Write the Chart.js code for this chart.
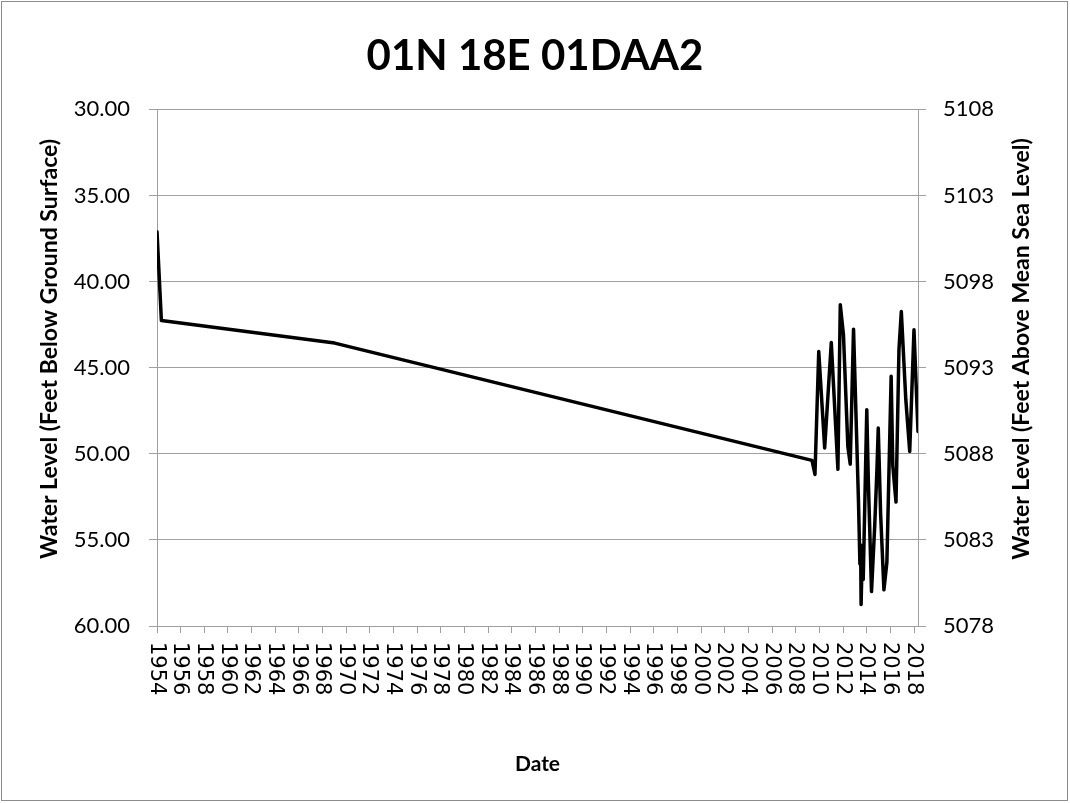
<!DOCTYPE html>
<html>
<head>
<meta charset="utf-8">
<script src="https://cdn.jsdelivr.net/npm/chart.js@4.4.1/dist/chart.umd.min.js"></script>
<style>
    html, body { margin: 0; padding: 0; background: #ffffff; }
    canvas { display: block; }
</style>
</head>
<body>
<canvas id="wellChart" width="1070" height="803"></canvas>
<script>
// measured water level, decimal year vs feet below ground surface
const dates = [1954.0, 1954.37, 1969.02, 2009.37, 2009.62, 2009.94, 2010.44, 2011.0, 2011.56, 2011.76,
    2012.03, 2012.4, 2012.6, 2012.88, 2013.3, 2013.42, 2013.48, 2013.52, 2013.6, 2013.7,
    2014.0, 2014.13, 2014.4, 2014.67, 2014.86, 2014.97, 2015.17, 2015.45, 2015.7, 2016.06,
    2016.2, 2016.47, 2016.72, 2016.92, 2017.3, 2017.63, 2017.99, 2018.33];
const depthBelowSurface = [37.1, 42.26, 43.57, 50.38, 51.2, 44.06, 49.66, 43.54, 50.9, 41.34,
    43.1, 49.57, 50.6, 42.76, 52.8, 56.4, 55.3, 58.75, 56.3, 57.3,
    47.44, 51.5, 58.0, 54.2, 50.9, 48.5, 53.5, 57.9, 56.3, 45.5,
    50.7, 52.8, 43.96, 41.74, 46.86, 49.86, 42.8, 48.7];

const chartTitle = '01N 18E 01DAA2';
const leftTitle = 'Water Level (Feet Below Ground Surface)';
const rightTitle = 'Water Level (Feet Above Mean Sea Level)';
const xTitle = 'Date';
const depthRange = [30, 60];
const elevationRange = [5078, 5108];
const yearRange = [1954, 2018.33];

const gridGrey = '#a0a0a0';
const textFont = 'Lato, "Open Sans", sans-serif';

// page frame, rotated year labels and the two vertical axis titles
const decorations = {
    id: 'decorations',
    beforeDraw(chart) {
        const ctx = chart.ctx;
        ctx.save();
        ctx.fillStyle = '#ffffff';
        ctx.fillRect(0, 0, chart.width, chart.height);
        ctx.strokeStyle = '#8c8c8c';
        ctx.lineWidth = 1;
        ctx.strokeRect(1.5, 1.5, chart.width - 4, chart.height - 4);
        ctx.restore();
    },
    afterDraw(chart) {
        const ctx = chart.ctx;
        const area = chart.chartArea;
        const xScale = chart.scales.x;
        ctx.save();
        ctx.fillStyle = '#000000';
        ctx.font = '21px "DejaVu Sans"';
        ctx.textAlign = 'left';
        ctx.textBaseline = 'middle';
        xScale.ticks.forEach(function (t) {
            const px = xScale.getPixelForValue(t.value);
            ctx.save();
            ctx.translate(px - 1, area.bottom + 16);
            ctx.rotate(Math.PI / 2);
            ctx.fillText(String(t.value), 0, 0);
            ctx.restore();
        });

        ctx.font = 'bold 23px ' + textFont;
        ctx.textAlign = 'center';
        ctx.textBaseline = 'middle';
        const midY = 349;
        [[50, leftTitle], [1022, rightTitle]].forEach(function (item) {
            ctx.save();
            ctx.translate(item[0], midY);
            ctx.rotate(-Math.PI / 2);
            ctx.fillText(item[1], 0, 0);
            ctx.restore();
        });
        ctx.restore();
    }
};

const points = dates.map((d, i) => ({ x: d, y: depthBelowSurface[i] }));

new Chart(document.getElementById('wellChart').getContext('2d'), {
    type: 'line',
    data: {
        datasets: [{
            label: chartTitle,
            data: points,
            borderColor: '#000000',
            borderWidth: 3.5,
            borderJoinStyle: 'round',
            borderCapStyle: 'round',
            pointRadius: 0,
            tension: 0,
            fill: false,
            yAxisID: 'y',
            xAxisID: 'x'
        }]
    },
    options: {
        responsive: false,
        animation: false,
        events: [],
        layout: { padding: 0 },
        plugins: {
            legend: { display: false },
            tooltip: { enabled: false },
            title: {
                display: true,
                text: chartTitle,
                color: '#000000',
                font: { family: textFont, size: 42, weight: 'bold', lineHeight: 1.2 },
                padding: { top: 31, bottom: 28 }
            }
        },
        scales: {
            x: {
                type: 'linear',
                position: 'bottom',
                min: yearRange[0],
                max: yearRange[1],
                afterFit: function (scale) { scale.height = 803 - 626; },
                ticks: {
                    stepSize: 2,
                    includeBounds: false,
                    autoSkip: false,
                    minRotation: 90,
                    maxRotation: 90,
                    color: 'rgba(0,0,0,0)',
                    font: { family: 'DejaVu Sans', size: 21 },
                    callback: v => String(v)
                },
                grid: { drawOnChartArea: false, drawTicks: true, tickLength: 7, color: gridGrey },
                border: { color: gridGrey },
                title: {
                    display: true,
                    text: xTitle,
                    color: '#000000',
                    font: { family: textFont, size: 21, weight: 'bold', lineHeight: 1.2 },
                    padding: { top: 0, bottom: 26 }
                }
            },
            y: {
                type: 'linear',
                position: 'left',
                reverse: true,
                min: depthRange[0],
                max: depthRange[1],
                afterFit: function (scale) { scale.width = 157; },
                ticks: {
                    stepSize: 5,
                    padding: 19,
                    color: '#000000',
                    font: { family: textFont, size: 22 },
                    callback: v => v.toFixed(2)
                },
                grid: { color: gridGrey, tickLength: 8 },
                border: { color: gridGrey }
            },
            y2: {
                type: 'linear',
                position: 'right',
                min: elevationRange[0],
                max: elevationRange[1],
                afterFit: function (scale) { scale.width = 1070 - 918; },
                ticks: {
                    stepSize: 5,
                    padding: 17,
                    color: '#000000',
                    font: { family: textFont, size: 22 },
                    callback: v => String(v)
                },
                grid: { drawOnChartArea: false, color: gridGrey, tickLength: 8 },
                border: { color: gridGrey }
            }
        }
    },
    plugins: [decorations]
});
</script>
</body>
</html>
